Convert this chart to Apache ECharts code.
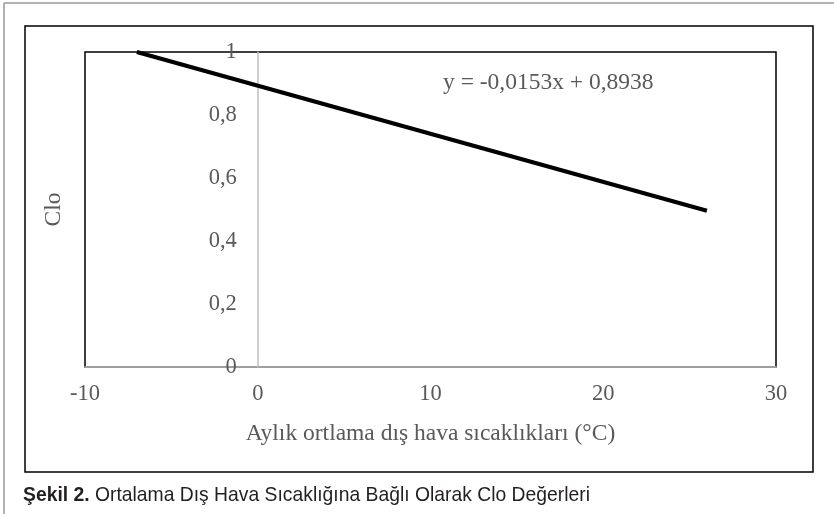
<!DOCTYPE html>
<html lang="tr">
  <head>
    <meta charset="UTF-8" />
    <title>Clo Değerleri</title>
    <script src="https://cdn.jsdelivr.net/npm/echarts@6/dist/echarts.min.js"></script>
    <style>
      body { margin: 0; background: #fff; }
      #main { width: 834px; height: 514px; }
    </style>
  </head>
  <body>
    <div id="main"></div>
    <script>
      // trend line end points (x: °C, y: clo)
      const trendX = [-7, 26];
      const trendY = [1.0, 0.496];
      const xTicks = [-10, 0, 10, 20, 30];
      const yTicks = [0, 0.2, 0.4, 0.6, 0.8, 1];
      const equation = "y = -0,0153x + 0,8938";

      const serif = "'Liberation Serif', 'Times New Roman', serif";
      const sans = "'Liberation Sans', Arial, sans-serif";
      const grey = "#595959";

      const gridLeft = 85, gridRight = 58;
      const gridW = 834 - gridLeft - gridRight;
      const xMin = xTicks[0], xMax = xTicks[xTicks.length - 1];
      // put the y axis at x = 0, as in the spreadsheet chart
      const yAxisOffset = -gridW * (0 - xMin) / (xMax - xMin);

      const chart = echarts.init(document.getElementById("main"));

      chart.setOption({
        animation: false,
        graphic: [
          // page frame
          { type: "line", shape: { x1: 4, y1: 3, x2: 834, y2: 3 }, style: { stroke: "#999", lineWidth: 1.5 } },
          { type: "line", shape: { x1: 4, y1: 3, x2: 4, y2: 514 }, style: { stroke: "#999", lineWidth: 1.5 } },
          // chart frame
          { type: "rect", shape: { x: 25, y: 26, width: 788, height: 446 }, style: { fill: "none", stroke: "#000", lineWidth: 1.5 } },
          {
            type: "text",
            left: 443,
            top: 71,
            style: { text: equation, font: "23.5px " + serif, fill: grey }
          },
          {
            type: "text",
            x: 23,
            y: 485,
            scaleX: 0.92,
            style: {
              text: "{b|Şekil 2.} Ortalama Dış Hava Sıcaklığına Bağlı Olarak Clo Değerleri",
              font: "21px " + sans,
              fill: "#231f20",
              rich: {
                b: { fontFamily: sans, fontSize: 21, fontWeight: "bold", fill: "#231f20" }
              }
            }
          }
        ],
        grid: {
          left: gridLeft,
          right: gridRight,
          top: 52,
          bottom: 147,
          outerBoundsMode: "none",
          containLabel: false,
          show: true,
          borderColor: "#000",
          borderWidth: 1.5
        },
        xAxis: {
          type: "value",
          min: xMin,
          max: xMax,
          interval: 10,
          name: "Aylık ortlama dış hava sıcaklıkları (°C)",
          nameLocation: "middle",
          nameGap: 55,
          nameTextStyle: { fontFamily: serif, fontSize: 23.5, color: grey },
          axisLine: { lineStyle: { color: "#bfbfbf", width: 1.5 } },
          axisTick: { show: false },
          splitLine: { show: false },
          axisLabel: { fontFamily: serif, fontSize: 22.5, color: grey, margin: 16 }
        },
        yAxis: {
          type: "value",
          min: yTicks[0],
          max: yTicks[yTicks.length - 1],
          interval: 0.2,
          offset: yAxisOffset,
          name: "Clo",
          nameLocation: "middle",
          nameGap: 192,
          nameTextStyle: { fontFamily: serif, fontSize: 23.5, color: grey },
          axisLine: { onZero: false, lineStyle: { color: "#bfbfbf", width: 1.5 } },
          axisTick: { show: false },
          splitLine: { show: false },
          axisLabel: {
            fontFamily: serif,
            fontSize: 22.5,
            color: grey,
            margin: 21,
            formatter: v => String(+v.toFixed(1)).replace(".", ",")
          }
        },
        series: [
          {
            type: "line",
            data: trendX.map((x, i) => [x, trendY[i]]),
            showSymbol: false,
            lineStyle: { color: "#000", width: 4 }
          }
        ]
      });
    </script>
  </body>
</html>
